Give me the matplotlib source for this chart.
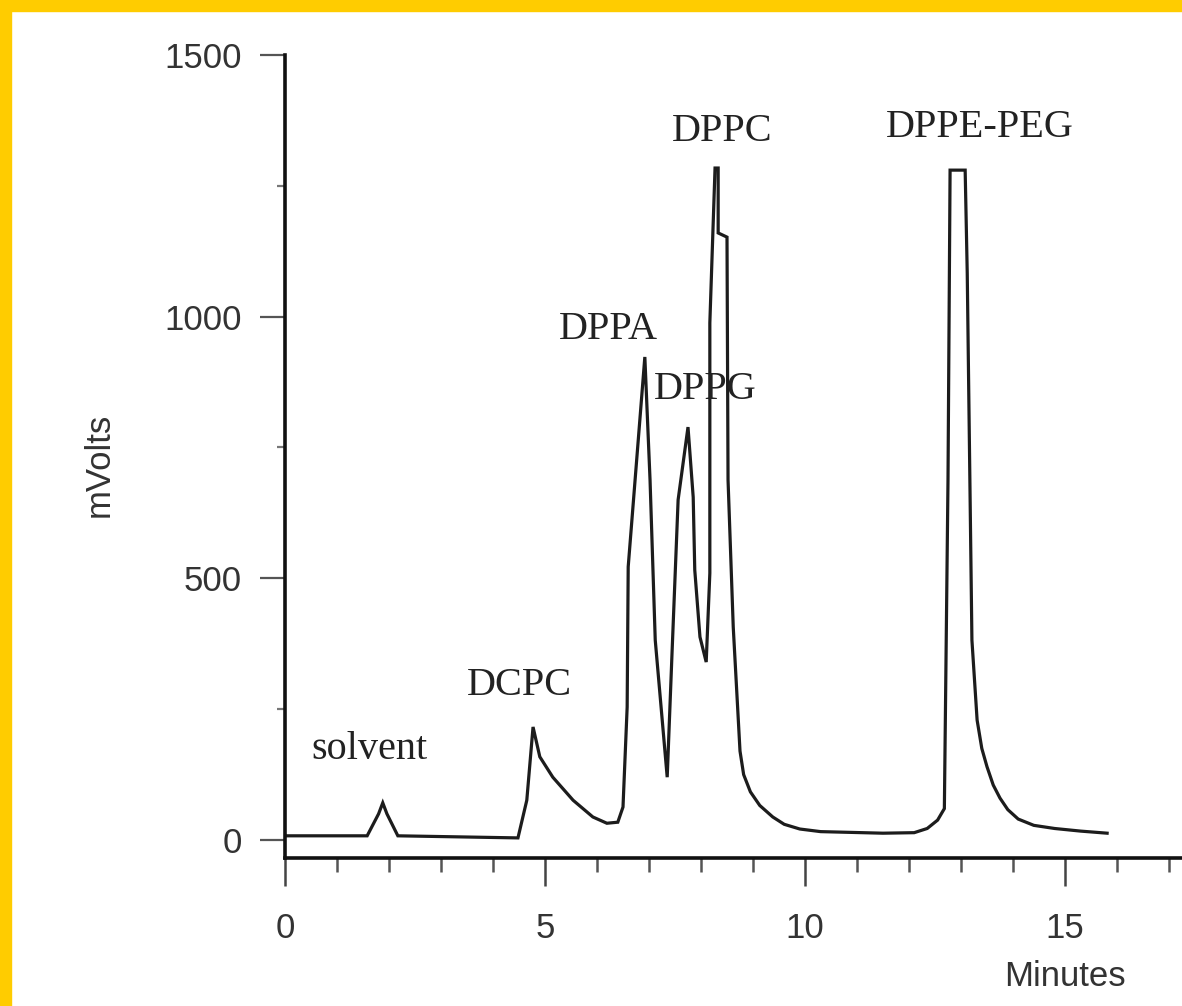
import matplotlib
matplotlib.use("Agg")
import matplotlib.pyplot as plt
from matplotlib.patches import Rectangle
from matplotlib.ticker import MultipleLocator

#################################################
#### Chromatogramme
temps = [0.0, 1.58, 1.80, 1.88, 1.96, 2.17, 4.48, 4.65, 4.77, 4.90, 5.15, 5.54, 5.92, 6.19,
         6.40, 6.50, 6.58, 6.60, 6.92, 7.02, 7.12, 7.35, 7.44, 7.56, 7.75, 7.85,
         7.88, 7.98, 8.10, 8.17, 8.17, 8.27, 8.33, 8.33, 8.50, 8.52, 8.62, 8.75,
         8.82, 8.95, 9.13, 9.38, 9.60, 9.90, 10.30, 11.50, 12.10, 12.35, 12.55,
         12.68, 12.75, 12.79, 13.08, 13.12, 13.21, 13.31, 13.40, 13.50, 13.62,
         13.75, 13.90, 14.10, 14.40, 14.80, 15.30, 15.81]
signal = [8, 8, 50, 71, 50, 8, 4, 76, 216, 159, 120, 76, 44, 32,
          34, 63, 254, 522, 923, 688, 382, 120, 350, 650, 789, 655,
          516, 388, 340, 510, 988, 1284, 1284, 1160, 1152, 688, 407, 170,
          125, 92, 66, 44, 30, 21, 16, 13, 14, 22, 38,
          60, 688, 1280, 1280, 1083, 382, 229, 175, 140, 105,
          80, 58, 40, 28, 22, 17, 13]

#### Noms des pics
pics = ["solvent", "DCPC", "DPPA", "DPPG", "DPPC", "DPPE-PEG"]
pics_t = [1.62, 4.50, 6.21, 8.08, 8.40, 13.37]
pics_v = [172, 296, 975, 860, 1353, 1361]

x_ticks = [0, 5, 10, 15]
y_ticks = [0, 500, 1000, 1500]

#################################################
W, H = 1182, 1006
fig = plt.figure(figsize=(W / 100, H / 100), dpi=100)
fig.patch.set_facecolor("white")

# axes: x=0 a 285 px, 52 px par minute ; 1500 a y=55 px, ligne x a y=858 px
ax = fig.add_axes([285 / W, 1 - 858 / H, (W - 285) / W, (858 - 55) / H])
ax.set_xlim(0, (W - 285) / 52.0)
ax.set_ylim(-34.4, 1500)

ax.plot(temps, signal, color="#1c1c1c", lw=2.3, solid_joinstyle="miter")

sans = ["Liberation Sans", "DejaVu Sans"]
serif = ["Liberation Serif", "DejaVu Serif"]
for nom, t, v in zip(pics, pics_t, pics_v):
    ax.text(t, v, nom, ha="center", va="center", fontsize=29,
            family=serif, color="#222222")

for s in ["top", "right"]:
    ax.spines[s].set_visible(False)
ax.spines["left"].set_linewidth(2.6)
ax.spines["bottom"].set_linewidth(2.6)
ax.spines["left"].set_color("#111111")
ax.spines["bottom"].set_color("#111111")

ax.set_xticks(x_ticks)
ax.set_yticks(y_ticks)
ax.xaxis.set_minor_locator(MultipleLocator(1))
ax.yaxis.set_minor_locator(MultipleLocator(250))
ax.tick_params(axis="y", which="major", direction="out", length=18, width=1.6,
               color="#555555", pad=13, labelsize=25, labelcolor="#333333")
ax.tick_params(axis="y", which="minor", direction="out", length=6, width=1.6,
               color="#777777")
ax.tick_params(axis="x", which="major", direction="out", length=20, width=1.8,
               color="#444444", pad=19, labelsize=25, labelcolor="#333333")
ax.tick_params(axis="x", which="minor", direction="out", length=10, width=1.8,
               color="#555555")
for lab in ax.get_xticklabels() + ax.get_yticklabels():
    lab.set_family(sans)

ax.set_ylabel("mVolts", fontsize=25, family=sans, color="#333333")
ax.yaxis.set_label_coords((116 - 285) / (W - 285), (858 - 465) / (858 - 55))
ax.set_xlabel("Minutes", fontsize=25, family=sans, color="#333333")
ax.xaxis.set_label_coords((1065 - 285) / (W - 285), (858 - 960) / (858 - 55))

# cadre jaune (gauche et haut)
jaune = "#FFCC00"
fig.patches.append(Rectangle((0, 0), 11 / W, 1, transform=fig.transFigure,
                             color=jaune, zorder=10))
fig.patches.append(Rectangle((0, 1 - 11 / H), 1, 11 / H, transform=fig.transFigure,
                             color=jaune, zorder=10))

fig.savefig("out.png", dpi=100)
